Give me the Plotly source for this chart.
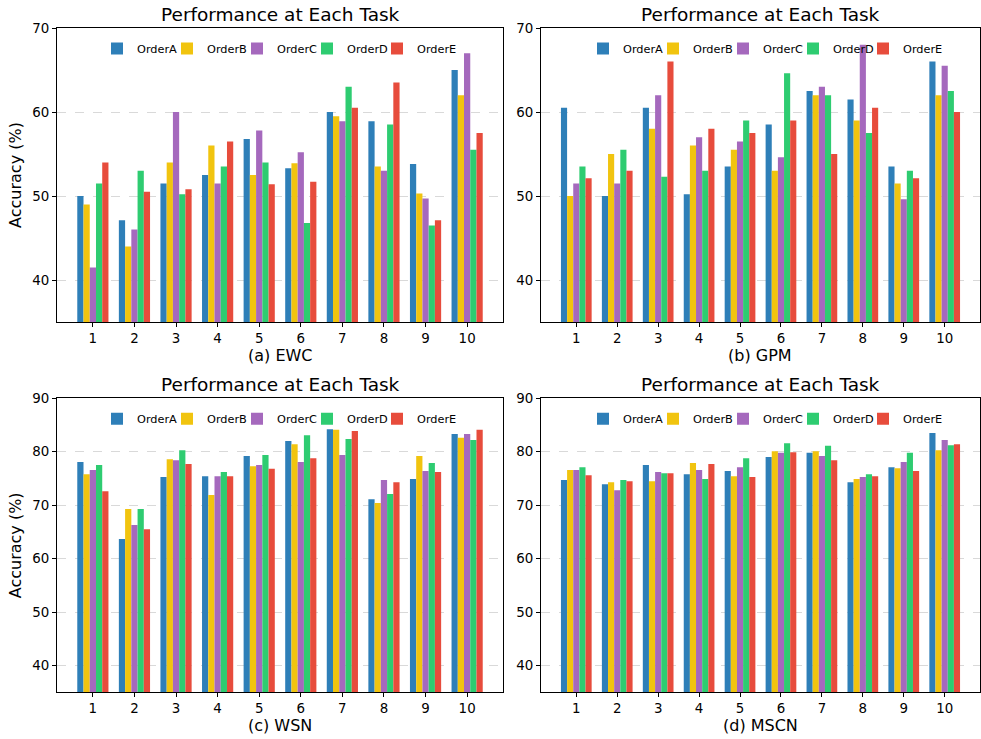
import plotly.graph_objects as go

tasks = [1, 2, 3, 4, 5, 6, 7, 8, 9, 10]
orders = ["OrderA", "OrderB", "OrderC", "OrderD", "OrderE"]
colors = ["#2e7fb8", "#f1c40f", "#a569bd", "#2ecc71", "#e74c3c"]

ewc_A = [50.0, 47.1, 51.5, 52.5, 56.8, 53.3, 60.0, 58.9, 53.8, 65.0]
ewc_B = [49.0, 44.0, 54.0, 56.0, 52.5, 53.9, 59.5, 53.5, 50.3, 62.0]
ewc_C = [41.5, 46.0, 60.0, 51.5, 57.8, 55.2, 58.9, 53.0, 49.7, 67.0]
ewc_D = [51.5, 53.0, 50.2, 53.5, 54.0, 46.8, 63.0, 58.5, 46.5, 55.5]
ewc_E = [54.0, 50.5, 50.8, 56.5, 51.4, 51.7, 60.5, 63.5, 47.1, 57.5]

gpm_A = [60.5, 50.0, 60.5, 50.2, 53.5, 58.5, 62.5, 61.5, 53.5, 66.0]
gpm_B = [50.0, 55.0, 58.0, 56.0, 55.5, 53.0, 62.0, 59.0, 51.5, 62.0]
gpm_C = [51.5, 51.5, 62.0, 57.0, 56.5, 54.6, 63.0, 68.0, 49.6, 65.5]
gpm_D = [53.5, 55.5, 52.3, 53.0, 59.0, 64.6, 62.0, 57.5, 53.0, 62.5]
gpm_E = [52.1, 53.0, 66.0, 58.0, 57.5, 59.0, 55.0, 60.5, 52.1, 60.0]

wsn_A = [78.1, 63.7, 75.3, 75.4, 79.2, 82.0, 84.2, 71.1, 74.9, 83.3]
wsn_B = [75.8, 69.3, 78.6, 71.9, 77.3, 81.4, 84.1, 70.4, 79.2, 82.6]
wsn_C = [76.6, 66.3, 78.4, 75.4, 77.5, 78.1, 79.4, 74.7, 76.4, 83.3]
wsn_D = [77.5, 69.3, 80.3, 76.2, 79.4, 83.1, 82.4, 72.1, 77.9, 82.2]
wsn_E = [72.6, 65.5, 77.7, 75.4, 76.8, 78.8, 83.9, 74.3, 76.2, 84.1]

mscn_A = [74.7, 73.9, 77.5, 75.8, 76.4, 79.0, 79.8, 74.3, 77.1, 83.5]
mscn_B = [76.6, 74.3, 74.5, 77.9, 75.4, 80.1, 80.1, 74.9, 76.9, 80.3]
mscn_C = [76.6, 72.8, 76.2, 76.6, 77.1, 79.8, 79.2, 75.3, 78.1, 82.2]
mscn_D = [77.1, 74.7, 76.0, 74.9, 78.8, 81.6, 81.1, 75.8, 79.8, 81.2]
mscn_E = [75.6, 74.5, 76.0, 77.7, 75.3, 79.9, 78.4, 75.4, 76.4, 81.4]

panels = [
    ("(a) EWC", [ewc_A, ewc_B, ewc_C, ewc_D, ewc_E], [35, 70], [40, 50, 60, 70]),
    ("(b) GPM", [gpm_A, gpm_B, gpm_C, gpm_D, gpm_E], [35, 70], [40, 50, 60, 70]),
    ("(c) WSN", [wsn_A, wsn_B, wsn_C, wsn_D, wsn_E], [35, 90], [40, 50, 60, 70, 80, 90]),
    ("(d) MSCN", [mscn_A, mscn_B, mscn_C, mscn_D, mscn_E], [35, 90], [40, 50, 60, 70, 80, 90]),
]

W, H = 981, 739
xdoms = [[57 / W, 503 / W], [541 / W, 980 / W]]
ydoms = [[1 - 322 / H, 1 - 28 / H], [1 - 692.3 / H, 1 - 398.3 / H]]
title_y_px = [14, 384]
xlabel_y_px = [355, 725]
legend_left_px = [97, 583]

FONT = "DejaVu Sans"
fig = go.Figure()
annotations = []
layout = dict(
    width=W, height=H,
    margin=dict(l=0, r=0, t=0, b=0, autoexpand=False),
    paper_bgcolor="white", plot_bgcolor="white",
    barmode="group", bargap=0.25, bargroupgap=0.0,
    font=dict(family=FONT, color="black"),
)

for i, (label, series, yr, yticks) in enumerate(panels):
    row, col = divmod(i, 2)
    ax = "" if i == 0 else str(i + 1)
    leg = "legend" if i == 0 else f"legend{i + 1}"
    for name, vals, c in zip(orders, series, colors):
        fig.add_trace(go.Bar(
            x=tasks, y=vals, name=name, marker=dict(color=c, line=dict(width=0)),
            xaxis="x" + ax, yaxis="y" + ax, legend=leg, offsetgroup=name,
        ))
    # invisible spacer entry so the last legend label is not clipped
    fig.add_trace(go.Scatter(
        x=[None], y=[None], mode="markers", name=" ",
        marker=dict(color="rgba(0,0,0,0)"), xaxis="x" + ax, yaxis="y" + ax,
        legend=leg, hoverinfo="skip",
    ))
    layout["xaxis" + ax] = dict(
        domain=xdoms[col], anchor="y" + ax, range=[0.1375, 10.8625],
        tickmode="array", tickvals=tasks, ticktext=[str(t) for t in tasks],
        showline=True, linecolor="black", linewidth=1, mirror=True,
        ticks="outside", ticklen=4, tickcolor="black", showgrid=False,
        tickfont=dict(size=13.4, family=FONT), zeroline=False, automargin=False,
    )
    layout["yaxis" + ax] = dict(
        domain=ydoms[row], anchor="x" + ax, range=yr,
        tickmode="array", tickvals=yticks,
        showline=True, linecolor="black", linewidth=1, mirror=True,
        ticks="outside", ticklen=4, tickcolor="black",
        showgrid=True, gridcolor="rgba(180,180,180,0.5)", griddash="dash", gridwidth=0.8,
        tickfont=dict(size=13.4, family=FONT), zeroline=False, automargin=False,
    )
    if col == 0:
        layout["yaxis" + ax]["title"] = dict(text="Accuracy (%)", font=dict(size=16, family=FONT), standoff=6)
    xc = (xdoms[col][0] + xdoms[col][1]) / 2
    annotations.append(dict(
        text="Performance at Each Task", x=xc, y=1 - title_y_px[row] / H,
        xref="paper", yref="paper", xanchor="center", yanchor="middle",
        showarrow=False, font=dict(size=18.5, family=FONT),
    ))
    annotations.append(dict(
        text=label, x=xc, y=1 - xlabel_y_px[row] / H,
        xref="paper", yref="paper", xanchor="center", yanchor="middle",
        showarrow=False, font=dict(size=16, family=FONT),
    ))
    layout[leg] = dict(
        orientation="h", x=legend_left_px[col] / W, xanchor="left",
        y=1 - (H * (1 - ydoms[row][1]) + 6) / H, yanchor="top",
        bgcolor="rgba(0,0,0,0)", font=dict(size=11.3, family=FONT),
        entrywidth=25, entrywidthmode="pixels", itemwidth=30,
        tracegroupgap=0,
    )

layout["annotations"] = annotations
fig.update_layout(**layout)
fig.write_html("out.html", post_script="document.body.style.margin='0';",
               config={"displayModeBar": False})
